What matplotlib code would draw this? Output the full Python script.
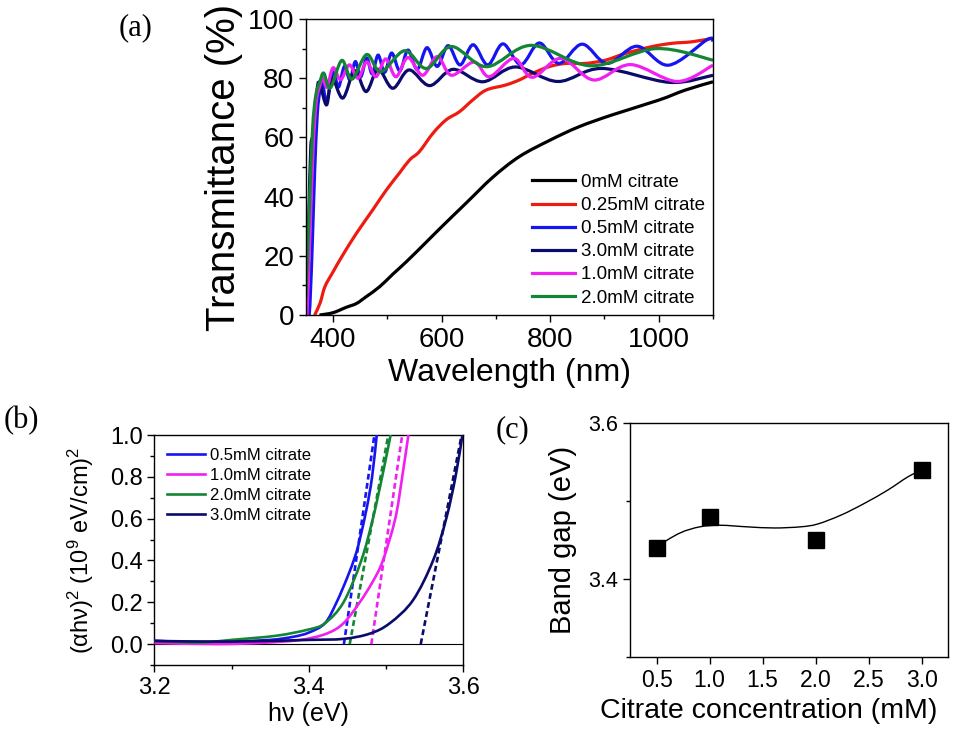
import numpy as np
import matplotlib
matplotlib.use('Agg')
import matplotlib.pyplot as plt
from matplotlib.path import Path
from matplotlib.patches import PathPatch
from matplotlib.ticker import MultipleLocator, FormatStrFormatter

plt.rcParams['font.family'] = ['Liberation Sans', 'DejaVu Sans']
plt.rcParams['mathtext.fontset'] = 'custom'
plt.rcParams['mathtext.rm'] = 'Liberation Sans'
plt.rcParams['mathtext.default'] = 'regular'

# ---------------- (a) transmittance spectra ----------------
wl_0 = [375, 400, 424, 443, 461, 486, 510, 535, 571, 600, 645, 694, 743, 800, 853, 914, 1000, 1049, 1100]
t_0 = [0, 0.8, 2.6, 3.9, 6.2, 9.6, 13.8, 18.0, 24.5, 29.8, 37.8, 46.5, 53.5, 59.1, 63.6, 67.6, 72.6, 76.0, 78.8]

wl_025 = [366, 376, 385, 400, 418, 443, 473, 498, 522, 541, 559, 584, 608, 633, 657, 682, 718,
          743, 767, 798, 829, 865, 902, 939, 988, 1025, 1061, 1100]
t_025 = [0, 4, 9.6, 14.6, 20.3, 27.6, 35.5, 42.2, 47.9, 52.4, 55.2, 61.4, 65.9, 68.7, 72.6, 76, 77.7,
         79.4, 81.6, 83.9, 85, 85, 86.1, 88.4, 90.7, 91.8, 92.3, 93.5]

wl_05 = [350, 356, 361, 366, 371, 376, 381, 388, 400, 410, 421, 431, 441, 451, 462, 472, 483, 495,
         508, 523, 538, 555, 573, 592, 612, 634, 658, 685, 713, 746, 780, 816, 859, 905, 960, 1018, 1089, 1100]
t_05 = [0, 0, 20, 48, 68, 76, 78, 72, 82, 77, 84, 79.5, 85.6, 80.5, 86.8, 81.5, 87.8, 82,
        88.5, 82.5, 89.5, 83, 90.3, 84, 91, 84.5, 91.3, 84.5, 91.6, 84.6, 91.9, 85, 91.5, 85, 90.8, 84.4, 93, 92.6]

wl_30 = [348, 351, 355, 359, 364, 370, 375, 388, 398, 418, 440, 461, 483, 510, 540, 578, 621,
         676, 736, 814, 895, 1020, 1100]
t_30 = [0, 1, 30, 57, 59.5, 75, 78.5, 71, 80, 73.3, 82.5, 75.5, 83, 76.6, 82.8, 77.5, 83,
        78.8, 83.8, 78.9, 83.3, 78.6, 81]

wl_10 = [352, 357, 363, 369, 375, 381, 389, 400, 414, 430, 446, 462, 479, 497, 516, 538, 565,
         592, 618, 660, 688, 733, 767, 820, 880, 948, 1034, 1100]
t_10 = [0, 25, 55, 72, 77, 80, 77, 83.5, 79.5, 84.5, 80, 85.5, 80.5, 86.5, 80.5, 87, 81,
        87.3, 81, 85.5, 80.5, 86.7, 80.3, 86.7, 79.4, 84.6, 78.9, 84.4]

wl_20 = [350, 355, 362, 368, 376, 383, 395, 416, 435, 462, 488, 532, 572, 618, 683, 765, 875, 995, 1100]
t_20 = [6, 30, 62, 74, 79, 81.7, 76.7, 86, 79.7, 88, 82.2, 89.3, 83.3, 90.7, 83.9, 91.1, 84.2, 90, 86.1]

spectra = [
    ('0mM citrate', wl_0, t_0, 'black'),
    ('0.25mM citrate', wl_025, t_025, '#ee1c10'),
    ('0.5mM citrate', wl_05, t_05, '#1515f0'),
    ('3.0mM citrate', wl_30, t_30, '#0b0b6b'),
    ('1.0mM citrate', wl_10, t_10, '#f020f0'),
    ('2.0mM citrate', wl_20, t_20, '#138535'),
]

# ---------------- (b) Tauc plots ----------------
hv_05 = [3.2, 3.26, 3.30, 3.35, 3.38, 3.40, 3.421, 3.436, 3.45, 3.460, 3.466, 3.475, 3.482, 3.488]
a_05 = [0.016, 0.008, 0.012, 0.02, 0.035, 0.055, 0.10, 0.20, 0.32, 0.42, 0.50, 0.65, 0.80, 1.0]
hv_10 = [3.2, 3.28, 3.34, 3.389, 3.423, 3.445, 3.466, 3.483, 3.496, 3.512, 3.521, 3.529]
a_10 = [0.005, 0.0, 0.006, 0.02, 0.05, 0.10, 0.20, 0.30, 0.40, 0.60, 0.80, 1.0]
hv_20 = [3.2, 3.26, 3.30, 3.358, 3.40, 3.421, 3.445, 3.468, 3.483, 3.495, 3.506]
a_20 = [0.015, 0.008, 0.02, 0.04, 0.07, 0.10, 0.20, 0.40, 0.60, 0.80, 1.0]
hv_30 = [3.2, 3.3, 3.4, 3.445, 3.479, 3.505, 3.535, 3.561, 3.578, 3.590, 3.599]
a_30 = [0.015, 0.012, 0.02, 0.025, 0.05, 0.10, 0.21, 0.40, 0.60, 0.80, 1.0]

# linear extrapolation lines: x at y=0 and x at y=1
fit_x = {'0.5': [3.4455, 3.485], '1.0': [3.481, 3.521], '2.0': [3.453, 3.503], '3.0': [3.545, 3.598]}
fit_y = [0.0, 1.0]

tauc = [
    ('0.5mM citrate', hv_05, a_05, '#1515f0', '0.5'),
    ('1.0mM citrate', hv_10, a_10, '#f020f0', '1.0'),
    ('2.0mM citrate', hv_20, a_20, '#138535', '2.0'),
    ('3.0mM citrate', hv_30, a_30, '#0b0b6b', '3.0'),
]

# ---------------- (c) band gap ----------------
conc = [0.5, 1.0, 2.0, 3.0]
gap = [3.44, 3.48, 3.45, 3.54]
curve_c = [0.5, 0.72, 0.91, 1.10, 1.35, 1.61, 1.86, 2.02, 2.24, 2.46, 2.68, 2.87, 3.0]
curve_g = [3.4417, 3.459, 3.467, 3.469, 3.467, 3.4655, 3.467, 3.4706, 3.482, 3.497, 3.514, 3.531, 3.5396]


def smooth_path(x, y):
    # Catmull-Rom curve through the read points, drawn as cubic Bezier segments
    pts = np.column_stack([x, y]).astype(float)
    n = len(pts)
    verts = [pts[0]]
    codes = [Path.MOVETO]
    for i in range(n - 1):
        p0 = pts[i - 1] if i > 0 else pts[i]
        p1 = pts[i]
        p2 = pts[i + 1]
        p3 = pts[i + 2] if i + 2 < n else pts[i + 1]
        verts += [p1 + (p2 - p0) / 6.0, p2 - (p3 - p1) / 6.0, p2]
        codes += [Path.CURVE4] * 3
    return Path(verts, codes)


def style_ticks(ax, xsize, ysize):
    ax.tick_params(which='major', direction='out', length=5, width=1)
    ax.tick_params(which='minor', direction='out', length=3, width=1)
    ax.tick_params(axis='x', labelsize=xsize)
    ax.tick_params(axis='y', labelsize=ysize)
    for s in ax.spines.values():
        s.set_linewidth(1.0)


fig = plt.figure(figsize=(9.59, 7.31), dpi=100)

# ---- panel (a)
ax1 = fig.add_axes([0.319, 0.569, 0.4245, 0.405])
for label, x, y, c in spectra:
    ax1.add_patch(PathPatch(smooth_path(x, y), fill=False, edgecolor=c, lw=2.3))
    ax1.plot([], [], color=c, lw=2.3, label=label)
ax1.set_xlim(350, 1100)
ax1.set_ylim(0, 100)
ax1.xaxis.set_major_locator(MultipleLocator(200))
ax1.xaxis.set_minor_locator(MultipleLocator(100))
ax1.yaxis.set_major_locator(MultipleLocator(20))
ax1.yaxis.set_minor_locator(MultipleLocator(10))
style_ticks(ax1, 20, 20)
ax1.set_xlabel('Wavelength (nm)', fontsize=23, labelpad=4)
ax1.set_ylabel('Transmittance (%)', fontsize=29, labelpad=3)
ax1.legend(loc='lower right', frameon=False, fontsize=13.5, handlelength=2.3,
           handletextpad=0.3, labelspacing=0.32, borderaxespad=0.05)
fig.text(0.124, 0.962, '(a)', fontsize=22, family='Liberation Serif', va='center')

# ---- panel (b)
ax2 = fig.add_axes([0.161, 0.0903, 0.322, 0.3146])
ax2.axhline(0, color='black', lw=0.8, zorder=1)
for label, x, y, c, key in tauc:
    ax2.plot(fit_x[key], fit_y, color=c, lw=1.9, dashes=(2.2, 1.3), zorder=2)
for label, x, y, c, key in tauc:
    ax2.add_patch(PathPatch(smooth_path(x, y), fill=False, edgecolor=c, lw=1.9, zorder=3))
    ax2.plot([], [], color=c, lw=1.9, label=label)
ax2.set_xlim(3.2, 3.6)
ax2.set_ylim(-0.1, 1.0)
ax2.xaxis.set_major_locator(MultipleLocator(0.2))
ax2.xaxis.set_minor_locator(MultipleLocator(0.1))
ax2.yaxis.set_major_locator(MultipleLocator(0.2))
ax2.yaxis.set_minor_locator(MultipleLocator(0.1))
ax2.set_yticks([0.0, 0.2, 0.4, 0.6, 0.8, 1.0])
ax2.yaxis.set_major_formatter(FormatStrFormatter('%.1f'))
ax2.xaxis.set_major_formatter(FormatStrFormatter('%.1f'))
style_ticks(ax2, 17, 17)
ax2.set_xlabel('hν (eV)', fontsize=18, labelpad=2)
ax2.set_ylabel('(αhν)$^2$ (10$^9$ eV/cm)$^2$', fontsize=17, labelpad=10)
ax2.legend(loc='upper left', frameon=False, fontsize=12, handlelength=2.3,
           handletextpad=0.3, labelspacing=0.3, borderaxespad=0.35)
fig.text(0.004, 0.425, '(b)', fontsize=22, family='Liberation Serif', va='center')

# ---- panel (c)
ax3 = fig.add_axes([0.657, 0.1012, 0.3316, 0.320])
ax3.add_patch(PathPatch(smooth_path(curve_c, curve_g), fill=False, edgecolor='black', lw=1.0))
ax3.plot(conc, gap, 's', color='black', markersize=12, zorder=3)
ax3.set_xlim(0.25, 3.25)
ax3.set_ylim(3.3, 3.6)
ax3.xaxis.set_major_locator(MultipleLocator(0.5))
ax3.yaxis.set_major_locator(MultipleLocator(0.2))
ax3.yaxis.set_minor_locator(MultipleLocator(0.1))
ax3.set_yticks([3.4, 3.6])
ax3.xaxis.set_major_formatter(FormatStrFormatter('%.1f'))
ax3.yaxis.set_major_formatter(FormatStrFormatter('%.1f'))
style_ticks(ax3, 16.5, 15.5)
ax3.set_xlabel('Citrate concentration (mM)', fontsize=20.5)
ax3.xaxis.set_label_coords(0.435, -0.175)
ax3.set_ylabel('Band gap (eV)', fontsize=21, labelpad=8)
fig.text(0.517, 0.412, '(c)', fontsize=22, family='Liberation Serif', va='center')

fig.savefig('out.png', dpi=100)
